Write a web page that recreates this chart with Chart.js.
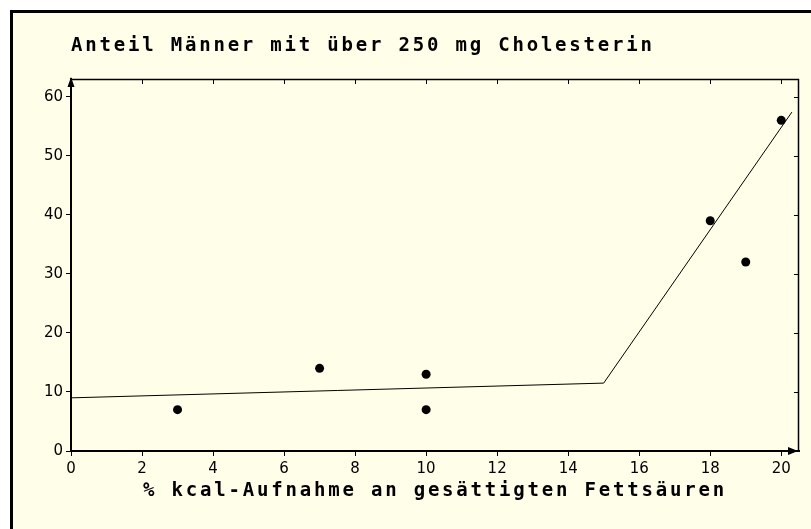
<!DOCTYPE html>
<html lang="de">
<head>
  <meta charset="UTF-8">
  <title>Anteil Männer mit über 250 mg Cholesterin</title>
  <script src="https://cdn.jsdelivr.net/npm/chart.js"></script>
  <style>
    body { margin: 0; background: #fff; }
    #box {
      position: absolute; left: 10px; top: 10px;
      width: 798px; height: 516px;
      border-left: 3px solid #000; border-top: 3px solid #000;
      background: #ffffe9;
    }
    canvas { display: block; }
  </style>
</head>
<body>
  <div id="box"><canvas id="cholChart" width="798" height="516"></canvas></div>
  <script>
    // measured points (x = % kcal from saturated fat, y = % men > 250 mg)
    const pointX = [3, 7, 10, 10, 18, 19, 20];
    const pointY = [7, 14, 13, 7, 39, 32, 56];
    // piecewise fitted line
    const fitX = [0, 15, 20.3];
    const fitY = [9, 11.5, 57.4];

    const titleText = 'Anteil Männer mit über 250 mg Cholesterin';
    const xTitle = '% kcal-Aufnahme an gesättigten Fettsäuren';

    const monoFont = { family: 'DejaVu Sans Mono', size: 19, weight: 'bold', lineHeight: 1.2 };
    const tickFont = { family: 'DejaVu Sans', size: 15 };

    // wide bitmap look for the two titles
    const spaced = {
      id: 'spaced',
      beforeDraw(chart) {
        const wrap = (obj, key) => {
          if (!obj || obj['_sp_' + key]) return;
          const orig = obj[key];
          obj[key] = function (...args) {
            const ctx = chart.ctx;
            ctx.save();
            ctx.letterSpacing = '2.8px';
            orig.apply(this, args);
            ctx.restore();
          };
          obj['_sp_' + key] = true;
        };
        wrap(chart.titleBlock, 'draw');
        wrap(chart.scales.x, 'drawTitle');
      }
    };

    // thin top/right frame with inward ticks, plus axis arrows
    const frame = {
      id: 'frame',
      afterDraw(chart) {
        const { ctx, chartArea: a, scales: { x, y } } = chart;
        ctx.save();
        ctx.strokeStyle = '#000';
        ctx.lineWidth = 1.5;
        ctx.beginPath();
        ctx.moveTo(a.left, a.top + 0.5);
        ctx.lineTo(a.right - 0.5, a.top + 0.5);
        ctx.lineTo(a.right - 0.5, a.bottom);
        ctx.stroke();
        ctx.lineWidth = 1;
        ctx.beginPath();
        x.ticks.forEach(t => {
          const px = Math.round(x.getPixelForValue(t.value)) + 0.5;
          ctx.moveTo(px, a.top);
          ctx.lineTo(px, a.top + 5);
        });
        y.ticks.forEach(t => {
          const py = Math.round(y.getPixelForValue(t.value)) + 0.5;
          ctx.moveTo(a.right, py);
          ctx.lineTo(a.right - 5, py);
        });
        ctx.stroke();
        ctx.fillStyle = '#000';
        ctx.beginPath();
        ctx.moveTo(a.left, a.top - 2);
        ctx.lineTo(a.left - 3.5, a.top + 8);
        ctx.lineTo(a.left + 3.5, a.top + 8);
        ctx.closePath();
        ctx.fill();
        ctx.beginPath();
        ctx.moveTo(a.right - 1, a.bottom);
        ctx.lineTo(a.right - 11, a.bottom - 4);
        ctx.lineTo(a.right - 11, a.bottom + 4);
        ctx.closePath();
        ctx.fill();
        ctx.restore();
      }
    };

    const axisGrid = {
      display: true, drawOnChartArea: false, drawTicks: true,
      tickLength: 5, color: '#000', lineWidth: 1
    };

    const ctx = document.getElementById('cholChart').getContext('2d');
    new Chart(ctx, {
      type: 'scatter',
      data: {
        datasets: [{
          label: 'Trend',
          data: fitX.map((v, i) => ({ x: v, y: fitY[i] })),
          showLine: true,
          borderColor: '#000',
          borderWidth: 1,
          pointRadius: 0
        }, {
          label: 'Werte',
          data: pointX.map((v, i) => ({ x: v, y: pointY[i] })),
          pointRadius: 4.5,
          backgroundColor: '#000',
          borderWidth: 0
        }]
      },
      options: {
        responsive: false,
        animation: false,
        events: [],
        layout: { padding: { left: 0, right: 12, top: 0, bottom: 0 } },
        plugins: {
          legend: { display: false },
          tooltip: { enabled: false },
          title: {
            display: true,
            text: titleText,
            align: 'start',
            fullSize: false,
            color: '#000',
            font: monoFont,
            padding: { top: 21.6, bottom: 21.6 }
          }
        },
        scales: {
          x: {
            type: 'linear',
            min: 0,
            max: 20.5,
            afterFit: s => { s.height = 78; },
            border: { display: true, color: '#000', width: 2 },
            grid: axisGrid,
            ticks: {
              stepSize: 2, includeBounds: false, autoSkip: false, maxRotation: 0,
              color: '#000', font: tickFont, padding: 4
            },
            title: {
              display: true,
              text: xTitle,
              color: '#000',
              font: monoFont,
              padding: { top: 0, bottom: 26.4 }
            }
          },
          y: {
            min: 0,
            max: 63,
            afterFit: s => { s.width = 58; },
            border: { display: true, color: '#000', width: 2 },
            grid: axisGrid,
            ticks: {
              stepSize: 10, includeBounds: false, autoSkip: false,
              color: '#000', font: tickFont, padding: 3
            }
          }
        }
      },
      plugins: [spaced, frame]
    });
  </script>
</body>
</html>
